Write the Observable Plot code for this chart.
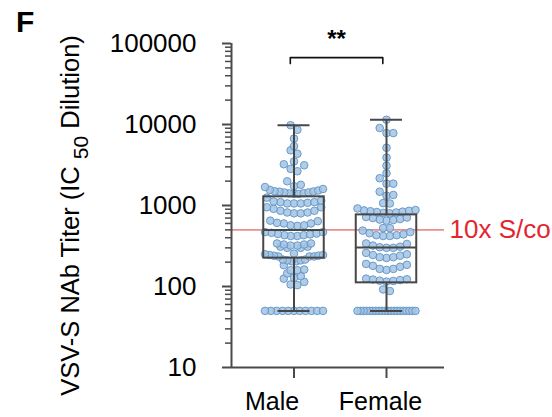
<!DOCTYPE html>
<html><head><meta charset="utf-8">
<script src="https://cdn.jsdelivr.net/npm/d3@7"></script>
<script src="https://cdn.jsdelivr.net/npm/@observablehq/plot@0.6"></script>
<style>
body{margin:0;background:#fff;font-family:"Liberation Sans",Arial,sans-serif}
#wrap{position:relative;width:552px;height:417px}
#panel{position:absolute;left:16px;top:7px;font:bold 30px/1 "Liberation Sans",Arial,sans-serif;color:#000}
</style></head><body><div id="wrap"><div id="panel">F</div></div>
<script>
// ---- data ----
const groups = ["Male", "Female"];
const maleValues = [
  9800, 8600, 6700, 5400, 4800, 4350, 3500, 3230, 3140, 2830, 2650, 1990, 1800, 1730, 1690,
  1600, 1560, 1530, 1500, 1490, 1480, 1450, 1450, 1420, 1410, 1390, 1390,
  1250, 1150, 1120, 1100, 1100, 1080, 1060, 1060, 1060,
  950, 950, 910, 860, 860, 820, 820, 800, 800,
  650, 640, 610, 600, 600, 570, 570, 560,
  470, 470, 460, 450, 445, 440, 430, 430, 420, 420,
  340, 340, 330, 330, 320, 320, 310, 310, 300, 300,
  255, 250, 245, 245, 240, 240, 235, 235, 235,
  215, 215, 210, 210, 205, 205,
  183, 162, 159, 159, 145, 134, 128, 125, 114, 106, 104,
  50, 50, 50, 50, 50, 50, 50, 50, 50, 50, 50
];
const femaleValues = [
  11450, 9050, 7830, 7830, 5160, 3900, 3100, 2500, 2170, 1860, 1860, 1480, 1350, 1320, 1070, 1060, 920,
  880, 870, 860, 850, 840, 830, 820, 810, 800,
  720, 710, 700, 680, 670, 660, 650,
  525, 525, 490,
  470, 455, 440, 430, 420, 420, 430,
  340, 335, 320, 310, 305, 300, 300,
  260, 250, 240, 230, 225, 230, 245,
  190, 185, 175, 165, 160, 165, 180,
  125, 123, 120, 117, 115, 118, 122,
  88, 92,
  50, 50, 50, 50, 50, 50, 50, 50, 50, 50, 50, 50, 50, 50, 50, 50, 50, 50, 50, 50
];
// box statistics (min, Q1, median, Q3, max) per group
const boxMin = [50, 50];
const boxQ1 = [224, 111];
const boxMedian = [500, 304];
const boxQ3 = [1280, 766];
const boxMax = [9800, 11450];
const yTicks = [10, 100, 1000, 10000, 100000];
const threshold = 500;
const thresholdLabel = "10x S/co";
const sigLabel = "**";
const bracketLevel = 67000;
const bracketEnd = 56500;
const starLevel = 112000;

// ---- layout ----
const W = 552, H = 417, mL = 231, mR = 108, mT = 43, mB = 50;
const xDomain = [0.3243, 2.627];
const yDomain = [10, 100000];
const pxPerUnit = (W - mL - mR) / (xDomain[1] - xDomain[0]);
const yPix = d3.scaleLog(yDomain, [H - mB, mT]);
const rowH = 7, spacing = 6.8, maxSpan = 58;

function swarm(values, center, group) {
  const sorted = values.slice().sort((a, b) => a - b);
  const rows = []; let cur = null;
  for (const v of sorted) {
    const py = yPix(v);
    if (cur && cur.py0 - py < rowH) cur.items.push(v);
    else { cur = {py0: py, items: [v]}; rows.push(cur); }
  }
  const out = [];
  for (const row of rows) {
    const n = row.items.length;
    const s = Math.min(spacing, maxSpan / Math.max(1, n - 1));
    row.items.forEach((v, k) => {
      let off;
      if (n % 2) off = k === 0 ? 0 : (k % 2 ? 1 : -1) * Math.ceil(k / 2);
      else off = (k % 2 ? -1 : 1) * (Math.floor(k / 2) + 0.5);
      out.push({group, value: v, x: center + off * s / pxPerUnit});
    });
  }
  return out;
}
const points = [...swarm(maleValues, 1, "Male"), ...swarm(femaleValues, 2, "Female")];
const stats = groups.map((g, i) => ({g, pos: i + 1, min: boxMin[i], q1: boxQ1[i], med: boxMedian[i], q3: boxQ3[i], max: boxMax[i]}));
const boxHalf = 30.25 / pxPerUnit, capHalf = 16 / pxPerUnit;
const minorTicks = [];
for (const d of [10, 100, 1000, 10000]) for (let k = 2; k <= 9; k++) minorTicks.push(d * k);

const boxColor = "#474747", axisColor = "#4a4a4a";
const off = -0.04;
const bracket = [
  {x: 1 + off, y: bracketEnd}, {x: 1 + off, y: bracketLevel},
  {x: 2 + off, y: bracketLevel}, {x: 2 + off, y: bracketEnd}
];
const font = '"Liberation Sans", Arial, sans-serif';

const plot = Plot.plot({
  width: W, height: H, marginLeft: mL, marginRight: mR, marginTop: mT, marginBottom: mB,
  style: {fontFamily: font, color: "#000", background: "transparent", overflow: "visible"},
  x: {domain: xDomain, axis: null},
  y: {type: "log", domain: yDomain, axis: null},
  marks: [
    Plot.ruleY([threshold], {stroke: "#e57373", strokeWidth: 1.8, strokeOpacity: 0.8}),
    Plot.dot(points, {x: "x", y: "value", r: 3.8, fill: "#a3c3e2", fillOpacity: 0.85, stroke: "#5f93c6", strokeWidth: 0.9}),
    Plot.ruleX(stats, {x: "pos", y1: "q3", y2: "max", stroke: boxColor, strokeWidth: 2}),
    Plot.ruleX(stats, {x: "pos", y1: "min", y2: "q1", stroke: boxColor, strokeWidth: 2}),
    Plot.rect(stats, {x1: d => d.pos - boxHalf, x2: d => d.pos + boxHalf, y1: "q1", y2: "q3", fill: "none", stroke: boxColor, strokeWidth: 2}),
    Plot.ruleY(stats, {y: "med", x1: d => d.pos - boxHalf, x2: d => d.pos + boxHalf, stroke: boxColor, strokeWidth: 2}),
    Plot.ruleY(stats, {y: "max", x1: d => d.pos - capHalf, x2: d => d.pos + capHalf, stroke: boxColor, strokeWidth: 2}),
    Plot.ruleY(stats, {y: "min", x1: d => d.pos - capHalf, x2: d => d.pos + capHalf, stroke: boxColor, strokeWidth: 2}),
    Plot.ruleX([xDomain[0]], {stroke: axisColor, strokeWidth: 2}),
    Plot.ruleY([yDomain[0]], {stroke: axisColor, strokeWidth: 2}),
    Plot.axisY({ticks: minorTicks, tickSize: 6, tickFormat: () => "", stroke: axisColor, strokeWidth: 1.5, label: null}),
    Plot.axisY({ticks: yTicks, tickSize: 9, tickPadding: 26, tickFormat: d => String(d), fontSize: 26, stroke: axisColor, fill: "#000", strokeWidth: 2, label: null}),
    Plot.axisX({ticks: [1, 2], tickSize: 11, tickFormat: () => "", stroke: axisColor, strokeWidth: 2, label: null}),
    Plot.axisX({ticks: [1], tickSize: 0, tickPadding: 25, tickFormat: i => groups[i - 1], fontSize: 25, fill: "#000", dx: -22, label: null}),
    Plot.axisX({ticks: [2], tickSize: 0, tickPadding: 25, tickFormat: i => groups[i - 1], fontSize: 25, fill: "#000", dx: -6, label: null}),
    Plot.text([{v: threshold, t: thresholdLabel}], {y: "v", text: "t", frameAnchor: "right", dx: 5, textAnchor: "start", fill: "#e3262e", fontSize: 26}),
    Plot.line(bracket, {x: "x", y: "y", stroke: "#111", strokeWidth: 1.6}),
    Plot.text([{x: 1.5 + off, y: starLevel, t: sigLabel}], {x: "x", y: "y", text: "t", fontSize: 24, fontWeight: "bold", fill: "#000"})
  ]
});
document.getElementById("wrap").appendChild(plot);

// rotated y-axis title with subscript
const svg = d3.select(plot);
const title = svg.append("text")
  .attr("transform", "translate(79,215.5) rotate(-90)")
  .attr("text-anchor", "middle")
  .attr("font-size", 25.5)
  .attr("fill", "#000")
  .attr("font-family", font);
title.append("tspan").text("VSV-S NAb Titer (IC ");
title.append("tspan").attr("dy", 9).attr("font-size", 21).text("50");
title.append("tspan").attr("dy", -9).text(" Dilution)");
</script></body></html>
